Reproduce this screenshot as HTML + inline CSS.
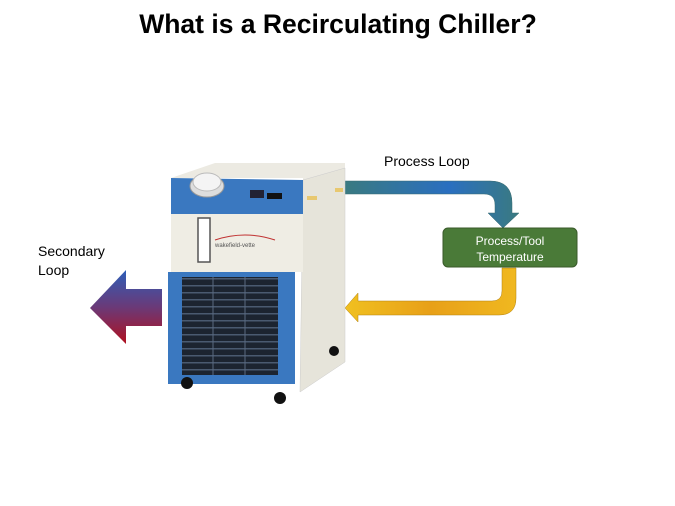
<!DOCTYPE html>
<html><head><style>
body{margin:0;background:#fff;}
svg{display:block}
text{font-family:"Liberation Sans",Arial,sans-serif;}
</style></head><body>
<svg width="675" height="506" viewBox="0 0 675 506" xmlns="http://www.w3.org/2000/svg">
<defs>
<linearGradient id="gb" x1="0" y1="0" x2="1" y2="0">
<stop offset="0" stop-color="#3a7a80"/><stop offset="0.6" stop-color="#2a6fc0"/><stop offset="1" stop-color="#3a7a80"/></linearGradient>
<linearGradient id="gy" x1="0" y1="0" x2="1" y2="0">
<stop offset="0" stop-color="#f0c020"/><stop offset="0.5" stop-color="#e8a018"/><stop offset="1" stop-color="#f0b820"/></linearGradient>
<linearGradient id="gp" x1="0" y1="0" x2="0" y2="1">
<stop offset="0" stop-color="#2e5fb8"/><stop offset="0.5" stop-color="#6a3a78"/><stop offset="1" stop-color="#b01020"/></linearGradient>
<pattern id="grill" width="8" height="7" patternUnits="userSpaceOnUse">
<rect width="8" height="7" fill="#1c2430"/><rect y="5" width="8" height="1.5" fill="#4a5a70"/></pattern>
</defs>
<text x="338" y="33" font-size="26.5" font-weight="bold" text-anchor="middle">What is a Recirculating Chiller?</text>
<text x="384" y="166" font-size="14">Process Loop</text>
<text x="38" y="256" font-size="14">Secondary</text>
<text x="38" y="275" font-size="14">Loop</text>

<path d="M344 181 H490 Q512 181 512 203 V213 H519 L503 228 L488 213 H495 V205 Q495 194 484 194 H344 Z" fill="url(#gb)" stroke="#3a6a70" stroke-width="0.5"/>
<rect x="443" y="228" width="134" height="39" rx="5" fill="#4a7a38" stroke="#3a5a2a"/>
<text x="510" y="245" font-size="12" fill="#fff" text-anchor="middle">Process/Tool</text>
<text x="510" y="261" font-size="12" fill="#fff" text-anchor="middle">Temperature</text>
<path d="M502 268 H516 V298 Q516 315 499 315 H358 V322 L345 308 L358 293 V301 H492 Q502 301 502 291 Z" fill="url(#gy)" stroke="#b08010" stroke-width="0.5"/>
<path d="M162 289 H126 V270 L90 308 L126 344 V326 H162 Z" fill="url(#gp)"/>

<polygon points="171,178 215,163 345,163 345,180 303,190 303,178" fill="#eceae2"/>
<polygon points="303,180 345,168 345,362 300,392" fill="#e6e4da" stroke="#ccc" stroke-width="0.5"/>
<polygon points="171,178 303,180 303,218 171,214" fill="#3a78c0"/>
<rect x="171" y="214" width="132" height="58" fill="#efede4"/>
<rect x="198" y="218" width="12" height="44" fill="#fff" stroke="#555" stroke-width="1.5"/>
<path d="M215 240 Q245 230 275 240" stroke="#c03030" fill="none" stroke-width="1"/>
<text x="215" y="247" font-size="6" fill="#555">wakefield-vette</text>
<ellipse cx="207" cy="186" rx="17" ry="11" fill="#ddd" stroke="#999"/>
<ellipse cx="207" cy="182" rx="14" ry="9" fill="#f4f4f4" stroke="#bbb"/>
<rect x="250" y="190" width="14" height="8" fill="#223"/>
<rect x="267" y="193" width="15" height="6" fill="#111"/>
<rect x="168" y="272" width="127" height="112" fill="#3a78c0"/>
<rect x="182" y="277" width="96" height="98" fill="url(#grill)"/>
<line x1="213" y1="277" x2="213" y2="375" stroke="#5a6a80"/>
<line x1="245" y1="277" x2="245" y2="375" stroke="#5a6a80"/>
<rect x="307" y="196" width="10" height="4" fill="#e8c870"/>
<rect x="335" y="188" width="8" height="4" fill="#e8c870"/>
<circle cx="187" cy="383" r="6" fill="#111"/>
<circle cx="280" cy="398" r="6" fill="#111"/>
<circle cx="334" cy="351" r="5" fill="#111"/>
</svg>
</body></html>
